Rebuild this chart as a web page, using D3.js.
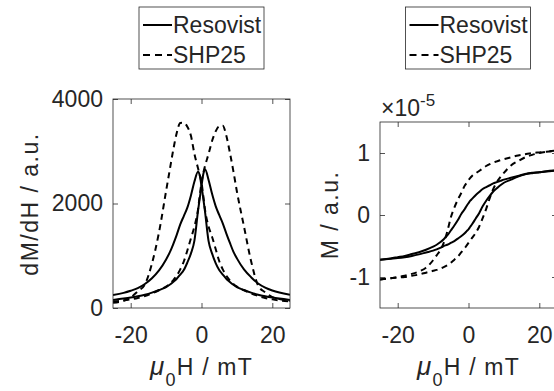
<!DOCTYPE html>
<html>
<head>
<meta charset="utf-8">
<script src="https://cdn.jsdelivr.net/npm/d3@7"></script>
<style>
  body { margin: 0; background: #fff; }
  text { font-family: "Liberation Sans", Arial, sans-serif; fill: #262626; }
</style>
</head>
<body>
<svg id="chart" width="554" height="391"></svg>
<script>
// field grid (mT) shared by every branch
const fieldH = [-25, -22, -20, -18, -16, -14, -12, -10, -9, -8, -7, -6, -5, -4, -3, -2, -1, -0.5,
    0, 0.5, 1, 2, 3, 4, 5, 6, 7, 8, 9, 10, 12, 14, 16, 18, 20, 22, 25];

// dM/dH (a.u.), one array per sweep direction
const derivResovistDown = [250, 290, 330, 380, 460, 570, 720, 930, 1060, 1220, 1400, 1600, 1760, 1920, 2150, 2420, 2610, 2540,
    2330, 2100, 1840, 1280, 1040, 860, 727, 640, 560, 500, 445, 400, 344, 295, 255, 225, 200, 180, 155];
const derivResovistUp = [155, 180, 200, 225, 255, 295, 344, 400, 445, 500, 560, 640, 727, 870, 1040, 1290, 1850, 2100,
    2330, 2560, 2655, 2450, 2180, 1950, 1780, 1620, 1430, 1250, 1080, 950, 740, 590, 470, 390, 335, 295, 255];
const derivShpDown = [100, 140, 200, 320, 450, 850, 1450, 2240, 2630, 3020, 3350, 3540, 3545, 3470, 3300, 2950, 2680, 2550,
    2400, 2150, 1880, 1560, 1360, 1130, 900, 740, 620, 530, 460, 410, 340, 280, 230, 190, 165, 145, 125];
const derivShpUp = [125, 145, 165, 190, 230, 280, 340, 410, 460, 530, 620, 740, 890, 1100, 1330, 1560, 1880, 2150,
    2400, 2580, 2720, 2950, 3200, 3380, 3480, 3490, 3300, 2980, 2620, 2230, 1560, 900, 430, 300, 210, 170, 140];

// M (units of 1e-5), descending and ascending branches
const magResovistDesc = [-0.72, -0.70, -0.68, -0.66, -0.63, -0.60, -0.56, -0.51, -0.48, -0.44, -0.39, -0.33, -0.25, -0.17, -0.08, 0.02, 0.10, 0.15,
    0.19, 0.23, 0.26, 0.32, 0.37, 0.42, 0.45, 0.48, 0.51, 0.53, 0.55, 0.57, 0.60, 0.63, 0.66, 0.68, 0.69, 0.70, 0.72];
const magResovistAsc = [-0.72, -0.705, -0.695, -0.68, -0.66, -0.635, -0.605, -0.575, -0.555, -0.53, -0.50, -0.48, -0.45, -0.42, -0.38, -0.34, -0.29, -0.26,
    -0.23, -0.19, -0.15, -0.06, 0.03, 0.14, 0.23, 0.31, 0.38, 0.43, 0.48, 0.52, 0.57, 0.62, 0.655, 0.675, 0.69, 0.705, 0.72];
const magShpDesc = [-1.04, -1.02, -1.0, -0.98, -0.95, -0.91, -0.85, -0.73, -0.65, -0.57, -0.45, -0.27, -0.04, 0.12, 0.25, 0.36, 0.48, 0.52,
    0.56, 0.60, 0.63, 0.67, 0.71, 0.75, 0.79, 0.82, 0.845, 0.865, 0.885, 0.90, 0.93, 0.96, 0.98, 1.0, 1.01, 1.02, 1.04];
const magShpAsc = [-1.04, -1.02, -1.01, -1.0, -0.98, -0.96, -0.93, -0.90, -0.885, -0.865, -0.84, -0.81, -0.77, -0.72, -0.67, -0.60, -0.53, -0.49,
    -0.45, -0.41, -0.37, -0.29, -0.19, -0.05, 0.10, 0.27, 0.42, 0.53, 0.61, 0.68, 0.80, 0.87, 0.93, 0.97, 1.0, 1.02, 1.04];

const xTicks = [-20, 0, 20];
const derivTicks = [0, 2000, 4000];
const magTicks = [-1, 0, 1];
const legendNames = ['Resovist', 'SHP25'];

const ink = '#262626';
const fontSize = 23;
const svg = d3.select('#chart');
const plainFormat = (d) => String(d);

function drawPanel(opts) {
    const { left, right, top, bottom, yDomain, yTicks, series, id } = opts;

    const x = d3.scaleLinear().domain([-25, 25]).range([left, right]);
    const y = d3.scaleLinear().domain(yDomain).range([bottom, top]);

    svg.append('clipPath').attr('id', id)
        .append('rect')
        .attr('x', left).attr('y', top)
        .attr('width', right - left).attr('height', bottom - top);

    const line = d3.line()
        .x((d) => x(d[0]))
        .y((d) => y(d[1]))
        .curve(d3.curveMonotoneX);

    series.forEach((s) => {
        svg.append('path')
            .datum(fieldH.map((h, i) => [h, s.values[i]]))
            .attr('clip-path', `url(#${id})`)
            .attr('fill', 'none')
            .attr('stroke', '#000')
            .attr('stroke-width', 2)
            .attr('stroke-dasharray', s.dashed ? '6,4.5' : null)
            .attr('d', line);
    });

    // axes with inward ticks, box on all four sides
    const bottomAxis = svg.append('g')
        .attr('transform', `translate(0,${bottom})`)
        .call(d3.axisBottom(x).tickValues(xTicks).tickFormat(plainFormat)
            .tickSizeInner(-5).tickSizeOuter(0).tickPadding(19));
    svg.append('g')
        .attr('transform', `translate(0,${top})`)
        .call(d3.axisTop(x).tickValues(xTicks).tickSizeInner(-5).tickSizeOuter(0).tickFormat(''));
    const leftAxis = svg.append('g')
        .attr('transform', `translate(${left},0)`)
        .call(d3.axisLeft(y).tickValues(yTicks).tickFormat(plainFormat)
            .tickSizeInner(-5).tickSizeOuter(0).tickPadding(10));
    svg.append('g')
        .attr('transform', `translate(${right},0)`)
        .call(d3.axisRight(y).tickValues(yTicks).tickSizeInner(-5).tickSizeOuter(0).tickFormat(''));

    svg.selectAll('.domain').remove();
    svg.selectAll('.tick line').attr('stroke', ink).attr('stroke-width', 0.8);
    bottomAxis.selectAll('text').attr('font-size', fontSize).attr('fill', ink);
    leftAxis.selectAll('text').attr('font-size', fontSize).attr('fill', ink);

    svg.append('rect')
        .attr('x', left).attr('y', top)
        .attr('width', right - left).attr('height', bottom - top)
        .attr('fill', 'none')
        .attr('stroke', ink)
        .attr('stroke-width', 0.8);

    // x label: mu_0 H / mT
    const xl = svg.append('text')
        .attr('x', (left + right) / 2)
        .attr('y', 375)
        .attr('text-anchor', 'middle')
        .attr('font-size', fontSize)
        .attr('letter-spacing', 1.2);
    xl.append('tspan').attr('font-style', 'italic').attr('font-size', 26).text('\u03bc');
    xl.append('tspan').attr('font-size', 18).attr('dy', 11).text('0');
    xl.append('tspan').attr('dy', -11).text('H / mT');

    return { x, y };
}

drawPanel({
    id: 'clipDeriv', left: 113, right: 290, top: 99, bottom: 308,
    yDomain: [0, 4000], yTicks: derivTicks,
    series: [
        { values: derivResovistDown }, { values: derivResovistUp },
        { values: derivShpDown, dashed: true }, { values: derivShpUp, dashed: true },
    ],
});

drawPanel({
    id: 'clipMag', left: 380, right: 557, top: 122, bottom: 308,
    yDomain: [-1.5, 1.5], yTicks: magTicks,
    series: [
        { values: magResovistDesc }, { values: magResovistAsc },
        { values: magShpDesc, dashed: true }, { values: magShpAsc, dashed: true },
    ],
});

// y labels
svg.append('text')
    .attr('transform', 'translate(38,204) rotate(-90)')
    .attr('text-anchor', 'middle')
    .attr('font-size', fontSize)
    .attr('letter-spacing', 1.5)
    .text('dM/dH / a.u.');
svg.append('text')
    .attr('transform', 'translate(338,215) rotate(-90)')
    .attr('text-anchor', 'middle')
    .attr('font-size', fontSize)
    .attr('letter-spacing', 1.5)
    .text('M / a.u.');

// exponent label
const expo = svg.append('text')
    .attr('x', 381).attr('y', 116)
    .attr('font-size', fontSize);
expo.append('tspan').text('\u00d710');
expo.append('tspan').attr('font-size', 17).attr('dy', -10).text('-5');

// legends
function drawLegend(boxLeft) {
    const g = svg.append('g').attr('transform', `translate(${boxLeft},7)`);
    g.append('rect')
        .attr('width', 125).attr('height', 62)
        .attr('fill', '#fff')
        .attr('stroke', ink)
        .attr('stroke-width', 0.8);
    legendNames.forEach((name, i) => {
        const cy = 18 + i * 30;
        g.append('line')
            .attr('x1', 4).attr('x2', 33)
            .attr('y1', cy).attr('y2', cy)
            .attr('stroke', '#000')
            .attr('stroke-width', 2)
            .attr('stroke-dasharray', i === 1 ? '7,5' : null);
        g.append('text')
            .attr('x', 34).attr('y', cy + 8)
            .attr('font-size', fontSize)
            .text(name);
    });
}
drawLegend(139);
drawLegend(405.5);
</script>
</body>
</html>
